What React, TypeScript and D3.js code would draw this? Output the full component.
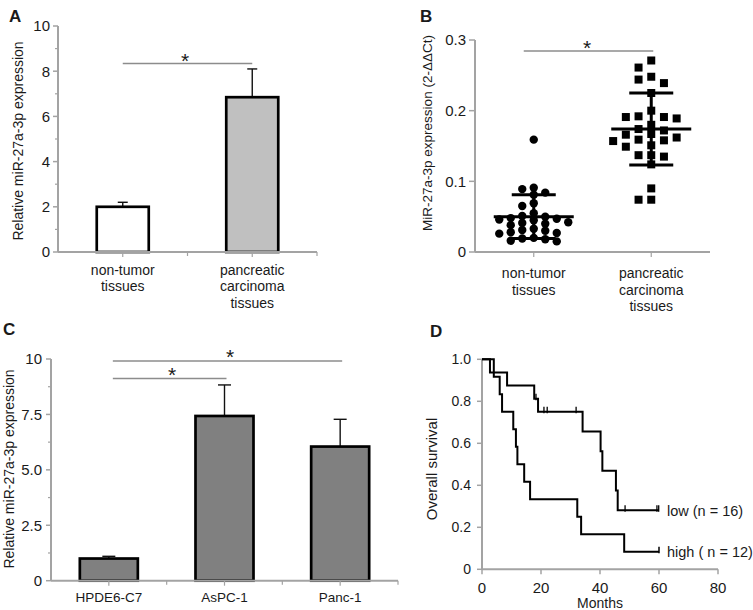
import React from 'react';
import * as d3 from 'd3';

const FONT = '"Liberation Sans", Arial, Helvetica, sans-serif';
const AXIS = '#a3a3a3';
const TXT = '#1a1a1a';
const SIG = '#8c8c8c';

// ---------- Panel A ----------
const catsA = [['non-tumor', 'tissues'], ['pancreatic', 'carcinoma', 'tissues']];
const valuesA = [2.0, 6.85];
const errorsA = [0.2, 1.25];
const fillsA = ['#ffffff', '#c0c0c0'];
const ticksA = [0, 2, 4, 6, 8, 10];
const minorTicksA = [1, 3, 5, 7, 9];

// ---------- Panel B ----------
const catsB = [['non-tumor', 'tissues'], ['pancreatic', 'carcinoma', 'tissues']];
const nonTumorB = [0.159, 0.091, 0.089, 0.084, 0.081, 0.069, 0.065, 0.055, 0.051, 0.05, 0.048, 0.047,
  0.046, 0.045, 0.042, 0.041, 0.04, 0.038, 0.033, 0.031, 0.03, 0.028, 0.027, 0.026, 0.02, 0.019,
  0.018, 0.016, 0.015];
const pancreaticB = [0.271, 0.261, 0.248, 0.244, 0.239, 0.225, 0.2, 0.192, 0.191, 0.191, 0.189, 0.18,
  0.174, 0.172, 0.167, 0.166, 0.162, 0.159, 0.158, 0.157, 0.151, 0.149, 0.137, 0.137, 0.135, 0.124,
  0.09, 0.074, 0.074];
const meanB = [0.05, 0.174];
const sdB = [0.031, 0.051];
const ticksB = [0, 0.1, 0.2, 0.3];
const tickLabelsB = ['0', '0.1', '0.2', '0.3'];

// ---------- Panel C ----------
const catsC = ['HPDE6-C7', 'AsPC-1', 'Panc-1'];
const valuesC = [1.0, 7.43, 6.05];
const errorsC = [0.1, 1.4, 1.23];
const ticksC = [0, 2.5, 5, 7.5, 10];
const tickLabelsC = ['0', '2.5', '5.0', '7.5', '10'];
const minorTicksC = [1.25, 3.75, 6.25, 8.75];

// ---------- Panel D ----------
const lowMonths = [0, 2.7, 8.5, 17.7, 19.0, 34.1, 40.2, 40.8, 45.4, 46.0, 60];
const lowSurvival = [1, 0.9375, 0.875, 0.8125, 0.75, 0.656, 0.5625, 0.469, 0.375, 0.281, 0.281];
const lowCensorMonths = [18.3, 21.0, 22.1, 31.9, 48.5, 59.3, 59.9];
const lowCensorSurvival = [0.8125, 0.75, 0.75, 0.75, 0.281, 0.281, 0.281];
const highMonths = [0, 4.0, 6.0, 6.8, 10.6, 11.5, 12.0, 14.3, 16.3, 32.3, 33.6, 48.2, 60];
const highSurvival = [1, 0.917, 0.833, 0.75, 0.667, 0.583, 0.5, 0.417, 0.333, 0.25, 0.167, 0.083, 0.083];
const highCensorMonths = [60];
const highCensorSurvival = [0.083];
const ticksDX = [0, 20, 40, 60, 80];
const ticksDY = [0, 0.2, 0.4, 0.6, 0.8, 1.0];
const tickLabelsDY = ['0', '0.2', '0.4', '0.6', '0.8', '1.0'];
const legendD = ['low (n = 16)', 'high ( n = 12)'];

function swarm(values: number[], y: (v: number) => number, step: number, minDy: number) {
  const placed: { off: number; y: number }[] = [];
  return values.map((v) => {
    const py = y(v);
    for (let k = 0; k < 30; k++) {
      const off = k === 0 ? 0 : k % 2 === 1 ? -Math.ceil(k / 2) : Math.ceil(k / 2);
      if (!placed.some((p) => p.off === off && Math.abs(p.y - py) < minDy)) {
        placed.push({ off, y: py });
        return { v, dx: off * step, y: py };
      }
    }
    return { v, dx: 0, y: py };
  });
}

const txt = { fontFamily: FONT, fill: TXT } as const;
const STAR = 21;

function PanelA() {
  const x = d3.scalePoint<number>().domain([0, 1]).range([58, 317]).padding(0.5);
  const y = d3.scaleLinear().domain([0, 10]).range([252, 26]);
  const step = x.step();
  const bw = 52;
  return (
    <g>
      <text x={9} y={22} style={{ ...txt, fontWeight: 'bold', fontSize: 17 }}>A</text>
      <text transform={`translate(23,141) rotate(-90)`} textAnchor="middle" style={{ ...txt, fontSize: 14 }}>
        Relative miR-27a-3p expression
      </text>
      {valuesA.map((v, i) => (
        <g key={i}>
          <line x1={x(i)!} x2={x(i)!} y1={y(v)} y2={y(v + errorsA[i])} stroke="#111" strokeWidth={1.4} />
          <line x1={x(i)! - 5} x2={x(i)! + 5} y1={y(v + errorsA[i])} y2={y(v + errorsA[i])} stroke="#111" strokeWidth={1.4} />
          <rect x={x(i)! - bw / 2} y={y(v)} width={bw} height={y(0) - y(v)} fill={fillsA[i]} stroke="#000" strokeWidth={2.7} />
        </g>
      ))}
      <line x1={58} x2={58} y1={y(10)} y2={y(0)} stroke={AXIS} strokeWidth={2} />
      <line x1={58} x2={317} y1={y(0)} y2={y(0)} stroke={AXIS} strokeWidth={2} />
      {ticksA.map((t) => (
        <g key={t}>
          <line x1={53} x2={58} y1={y(t)} y2={y(t)} stroke={AXIS} strokeWidth={1.5} />
          <text x={50} y={y(t)} dy="0.36em" textAnchor="end" style={{ ...txt, fontSize: 15 }}>{t}</text>
        </g>
      ))}
      {minorTicksA.map((t) => (
        <line key={t} x1={55} x2={58} y1={y(t)} y2={y(t)} stroke={AXIS} strokeWidth={1.2} />
      ))}
      {[0, 1].map((i) => (
        <line key={i} x1={x(i)!} x2={x(i)!} y1={y(0)} y2={y(0) + 5} stroke={AXIS} strokeWidth={1.2} />
      ))}
      {[1, 2].map((k) => (
        <line key={k} x1={58 + k * step} x2={58 + k * step} y1={y(0)} y2={y(0) + 4} stroke={AXIS} strokeWidth={1.2} />
      ))}
      {catsA.map((lines, i) =>
        lines.map((l, j) => (
          <text key={i + '-' + j} x={x(i)!} y={275 + j * 16.3} textAnchor="middle" style={{ ...txt, fontSize: 14 }}>{l}</text>
        ))
      )}
      <line x1={x(0)!} x2={x(1)!} y1={63.5} y2={63.5} stroke={SIG} strokeWidth={1.5} />
      <text x={185} y={68} textAnchor="middle" style={{ ...txt, fontSize: STAR }}>*</text>
    </g>
  );
}

function PanelB() {
  const x = d3.scalePoint<number>().domain([0, 1]).range([475, 710]).padding(0.5);
  const y = d3.scaleLinear().domain([0, 0.3]).range([252, 40]);
  const circles = swarm(nonTumorB, y, 11.5, 7);
  const squares = swarm(pancreaticB, y, 12.7, 8.5);
  const r = 4.2;
  const s = 8;
  return (
    <g>
      <text x={420} y={22} style={{ ...txt, fontWeight: 'bold', fontSize: 17 }}>B</text>
      <text transform={`translate(432,133) rotate(-90)`} textAnchor="middle" style={{ ...txt, fontSize: 13.5 }}>
        MiR-27a-3p expression (2-ΔΔCt)
      </text>
      <line x1={475} x2={475} y1={y(0.3)} y2={y(0)} stroke={AXIS} strokeWidth={2} />
      <line x1={475} x2={710} y1={y(0)} y2={y(0)} stroke={AXIS} strokeWidth={2} />
      {ticksB.map((t, i) => (
        <g key={t}>
          <line x1={469} x2={475} y1={y(t)} y2={y(t)} stroke={AXIS} strokeWidth={1.5} />
          <text x={466} y={y(t)} dy="0.36em" textAnchor="end" style={{ ...txt, fontSize: 15 }}>{tickLabelsB[i]}</text>
        </g>
      ))}
      {[0, 1].map((i) => (
        <line key={i} x1={x(i)!} x2={x(i)!} y1={y(0)} y2={y(0) + 5} stroke={AXIS} strokeWidth={1.2} />
      ))}
      {catsB.map((lines, i) =>
        lines.map((l, j) => (
          <text key={i + '-' + j} x={x(i)!} y={278 + j * 16.7} textAnchor="middle" style={{ ...txt, fontSize: 14 }}>{l}</text>
        ))
      )}
      {circles.map((c, i) => (
        <circle key={i} cx={x(0)! + c.dx} cy={c.y} r={r} fill="#000" />
      ))}
      {squares.map((c, i) => (
        <rect key={i} x={x(1)! + c.dx - s / 2} y={c.y - s / 2} width={s} height={s} fill="#000" />
      ))}
      {meanB.map((m, i) => (
        <g key={i} stroke="#000" strokeWidth={3}>
          <line x1={x(i)! - 40} x2={x(i)! + 40} y1={y(m)} y2={y(m)} />
          <line x1={x(i)!} x2={x(i)!} y1={y(m - sdB[i])} y2={y(m + sdB[i])} />
          <line x1={x(i)! - 22} x2={x(i)! + 22} y1={y(m + sdB[i])} y2={y(m + sdB[i])} />
          <line x1={x(i)! - 22} x2={x(i)! + 22} y1={y(m - sdB[i])} y2={y(m - sdB[i])} />
        </g>
      ))}
      <line x1={x(0)! - 10} x2={x(1)! + 2} y1={51} y2={51} stroke={SIG} strokeWidth={1.5} />
      <text x={587} y={55} textAnchor="middle" style={{ ...txt, fontSize: STAR }}>*</text>
    </g>
  );
}

function PanelC() {
  const x = d3.scalePoint<number>().domain([0, 1, 2]).range([51, 398]).padding(0.5);
  const y = d3.scaleLinear().domain([0, 10]).range([580.7, 359]);
  const step = x.step();
  const bw = 58;
  return (
    <g>
      <text x={3} y={335} style={{ ...txt, fontWeight: 'bold', fontSize: 17 }}>C</text>
      <text transform={`translate(14,469) rotate(-90)`} textAnchor="middle" style={{ ...txt, fontSize: 14 }}>
        Relative miR-27a-3p expression
      </text>
      {valuesC.map((v, i) => (
        <g key={i}>
          <line x1={x(i)!} x2={x(i)!} y1={y(v)} y2={y(v + errorsC[i])} stroke="#111" strokeWidth={1.4} />
          <line x1={x(i)! - 6.5} x2={x(i)! + 6.5} y1={y(v + errorsC[i])} y2={y(v + errorsC[i])} stroke="#111" strokeWidth={1.4} />
          <rect x={x(i)! - bw / 2} y={y(v)} width={bw} height={y(0) - y(v)} fill="#808080" stroke="#000" strokeWidth={2.7} />
        </g>
      ))}
      <line x1={51} x2={51} y1={y(10)} y2={y(0)} stroke={AXIS} strokeWidth={2} />
      <line x1={51} x2={398} y1={y(0)} y2={y(0)} stroke={AXIS} strokeWidth={2} />
      {ticksC.map((t, i) => (
        <g key={t}>
          <line x1={46} x2={51} y1={y(t)} y2={y(t)} stroke={AXIS} strokeWidth={1.5} />
          <text x={42} y={y(t)} dy="0.36em" textAnchor="end" style={{ ...txt, fontSize: 15 }}>{tickLabelsC[i]}</text>
        </g>
      ))}
      {minorTicksC.map((t) => (
        <line key={t} x1={48} x2={51} y1={y(t)} y2={y(t)} stroke={AXIS} strokeWidth={1.2} />
      ))}
      {[0, 1, 2].map((i) => (
        <line key={i} x1={x(i)!} x2={x(i)!} y1={y(0)} y2={y(0) + 5} stroke={AXIS} strokeWidth={1.2} />
      ))}
      {[1, 2, 3].map((k) => (
        <line key={k} x1={51 + k * step} x2={51 + k * step} y1={y(0)} y2={y(0) + 4} stroke={AXIS} strokeWidth={1.2} />
      ))}
      {catsC.map((c, i) => (
        <text key={c} x={x(i)!} y={602} textAnchor="middle" style={{ ...txt, fontSize: 13.5 }}>{c}</text>
      ))}
      <line x1={x(0)! + 4} x2={x(2)! + 2} y1={361} y2={361} stroke={SIG} strokeWidth={1.5} />
      <text x={230} y={363.5} textAnchor="middle" style={{ ...txt, fontSize: STAR }}>*</text>
      <line x1={x(0)! + 4} x2={x(1)! + 2} y1={378.5} y2={378.5} stroke={SIG} strokeWidth={1.5} />
      <text x={172} y={382} textAnchor="middle" style={{ ...txt, fontSize: STAR }}>*</text>
    </g>
  );
}

function PanelD() {
  const x = d3.scaleLinear().domain([0, 80]).range([482, 718]);
  const y = d3.scaleLinear().domain([0, 1]).range([569.3, 359.3]);
  const line = d3.line<[number, number]>().x((d) => x(d[0])).y((d) => y(d[1])).curve(d3.curveStepAfter);
  const lowPts = lowMonths.map((m, i) => [m, lowSurvival[i]] as [number, number]);
  const highPts = highMonths.map((m, i) => [m, highSurvival[i]] as [number, number]);
  return (
    <g>
      <text x={430} y={337} style={{ ...txt, fontWeight: 'bold', fontSize: 17 }}>D</text>
      <text transform={`translate(437,469) rotate(-90)`} textAnchor="middle" style={{ ...txt, fontSize: 15 }}>
        Overall survival
      </text>
      <line x1={482} x2={482} y1={y(1)} y2={y(0)} stroke={AXIS} strokeWidth={2} />
      <line x1={482} x2={718} y1={y(0)} y2={y(0)} stroke={AXIS} strokeWidth={2} />
      {ticksDY.map((t, i) => (
        <g key={t}>
          <line x1={477} x2={482} y1={y(t)} y2={y(t)} stroke={AXIS} strokeWidth={1.5} />
          <text x={471} y={y(t)} dy="0.36em" textAnchor="end" style={{ ...txt, fontSize: 14 }}>{tickLabelsDY[i]}</text>
        </g>
      ))}
      {ticksDX.map((t) => (
        <g key={t}>
          <line x1={x(t)} x2={x(t)} y1={y(0)} y2={y(0) + 5} stroke={AXIS} strokeWidth={1.5} />
          <text x={x(t)} y={593} textAnchor="middle" style={{ ...txt, fontSize: 15 }}>{t}</text>
        </g>
      ))}
      <text x={x(40)} y={608} textAnchor="middle" style={{ ...txt, fontSize: 14 }}>Months</text>
      <path d={line(highPts) || ''} fill="none" stroke="#000" strokeWidth={2} />
      <path d={line(lowPts) || ''} fill="none" stroke="#000" strokeWidth={2} />
      {lowCensorMonths.map((m, i) => (
        <line key={'l' + i} x1={x(m)} x2={x(m)} y1={y(lowCensorSurvival[i]) - 5} y2={y(lowCensorSurvival[i]) + 1.5} stroke="#000" strokeWidth={1.3} />
      ))}
      {highCensorMonths.map((m, i) => (
        <line key={'h' + i} x1={x(m)} x2={x(m)} y1={y(highCensorSurvival[i]) - 5} y2={y(highCensorSurvival[i]) + 1.5} stroke="#000" strokeWidth={1.5} />
      ))}
      <text x={667} y={y(lowSurvival[lowSurvival.length - 1])} dy="0.36em" style={{ ...txt, fontSize: 14.5 }}>{legendD[0]}</text>
      <text x={667} y={y(highSurvival[highSurvival.length - 1])} dy="0.36em" style={{ ...txt, fontSize: 14.5 }}>{legendD[1]}</text>
    </g>
  );
}

export default function App() {
  return (
    <svg width={753} height={610} style={{ position: 'absolute', left: 0, top: 0, background: '#fff' }}>
      <rect width={753} height={610} fill="#fff" />
      <PanelA />
      <PanelB />
      <PanelC />
      <PanelD />
    </svg>
  );
}
